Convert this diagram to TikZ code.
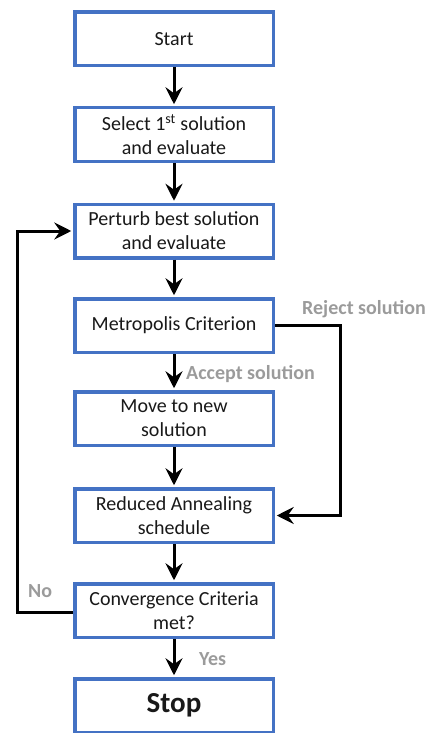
\documentclass[tikz,border=0pt]{standalone}
\usepackage{fontspec}
\setmainfont{Carlito}
\usetikzlibrary{arrows.meta}
\definecolor{boxblue}{RGB}{68,114,196}
\definecolor{labgray}{RGB}{155,155,155}
\tikzset{
  flowbox/.style={draw=boxblue, line width=3.5pt, fill=white, minimum width=198.5pt, minimum height=53.5pt,
    align=center, inner sep=2pt, font=\fontsize{20}{24}\selectfont, text=black!90},
  flowarrow/.style={draw=black, line width=3pt, -{Stealth[length=17pt,width=17pt,inset=6pt]}, shorten >=1.75pt},
  lab/.style={text=labgray, font=\fontsize{20}{24}\selectfont\bfseries, inner sep=0pt}
}
\begin{document}
\begin{tikzpicture}[x=1pt,y=-1pt]
\useasboundingbox (0,0) rectangle (425,733);
\node[flowbox] (start) at (174,39) {Start};
\node[flowbox] (select) at (174,134.5) {Select 1\textsuperscript{st} solution\\and evaluate};
\node[flowbox] (perturb) at (174,231) {Perturb best solution\\and evaluate};
\node[flowbox] (metro) at (174,325.5) {Metropolis Criterion};
\node[flowbox] (move) at (174,418.5) {Move to new\\solution};
\node[flowbox] (reduced) at (174,515.5) {Reduced Annealing\\schedule};
\node[flowbox] (conv) at (174,610.5) {Convergence Criteria\\met?};
\node[flowbox, font=\fontsize{29}{34}\selectfont\bfseries] (stop) at (174,705.5) {Stop};

\draw[flowarrow] (start) -- (select);
\draw[flowarrow] (select) -- (perturb);
\draw[flowarrow] (perturb) -- (metro);
\draw[flowarrow] (metro) -- (move);
\draw[flowarrow] (move) -- (reduced);
\draw[flowarrow] (reduced) -- (conv);
\draw[flowarrow] (conv) -- (stop);

\coordinate (l1) at (17,612);
\coordinate (l2) at (17,231);
\draw[flowarrow] (conv.west |- l1) -- (l1) -- (l2) -- (perturb.west);
\coordinate (r1) at (340,325.5);
\coordinate (r2) at (340,515.5);
\draw[flowarrow] (metro.east) -- (r1) -- (r2) -- (reduced.east);

\node[lab, anchor=base west] (rej) at (302,314) {Reject solution};
\node[lab, anchor=base west] (acc) at (186,379) {Accept solution};
\node[lab, anchor=base west] (no) at (28,597) {No};
\node[lab, anchor=base west] (yes) at (199,665) {Yes};
\end{tikzpicture}
\end{document}
